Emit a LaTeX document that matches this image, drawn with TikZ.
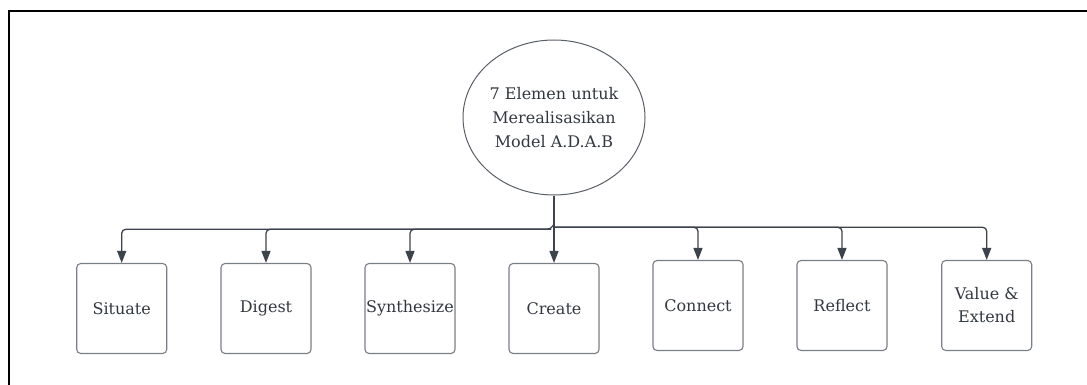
\documentclass[tikz,border=0pt]{standalone}
\usepackage{fontspec}
\setmainfont{DejaVu Serif}
\usetikzlibrary{shapes.geometric,arrows.meta}
\definecolor{txt}{HTML}{33383F}
\definecolor{boxline}{HTML}{7A7E86}
\definecolor{conncol}{HTML}{3D434C}
\tikzset{
  x=1pt,y=-1pt,
  stepbox/.style={draw=boxline,line width=1.1pt,rounded corners=4pt,minimum width=90pt,minimum height=90pt,
    text=txt,font=\fontsize{16}{23}\selectfont,align=center,inner sep=0pt},
  topell/.style={ellipse,draw=conncol!85,line width=1pt,minimum width=182pt,minimum height=155pt,
    text=txt,font=\fontsize{16}{24}\selectfont,align=center,inner sep=0pt},
  conn/.style={draw=conncol,line width=1.3pt,rounded corners=4pt,-{Triangle[length=12pt,width=9pt]}},
}
\begin{document}
\begin{tikzpicture}
\useasboundingbox (0,0) rectangle (1087,385);
\draw[line width=1.4pt,black] (9,385) -- (9,11) -- (1087,11);
\node[topell] (top) at (554,117.5) {7 Elemen untuk\\Merealisasikan\\Model A.D.A.B};
\node[stepbox] (sit) at (121.7,308.5) {Situate};
\node[stepbox] (dig) at (266,308.5) {Digest};
\node[stepbox] (syn) at (410,308.5) {Synthesize};
\node[stepbox] (cre) at (554,308.5) {Create};
\node[stepbox] (con) at (698,305.5) {Connect};
\node[stepbox] (ref) at (842,305.5) {Reflect};
\node[stepbox] (val) at (986.7,305.5) {Value \&\\Extend};
\coordinate (jl) at (554,224);
\coordinate (jr) at (554,227.3);
\draw[conn] (top.south) -- (cre.north);
\draw[conn] (jl) -- (551,229.3) -| (sit.north);
\draw[conn] (551,229.3) -| (dig.north);
\draw[conn] (551,229.3) -| (syn.north);
\draw[conn] (jr) -| (con.north);
\draw[conn] (jr) -| (ref.north);
\draw[conn] (jr) -| (val.north);
\end{tikzpicture}
\end{document}
